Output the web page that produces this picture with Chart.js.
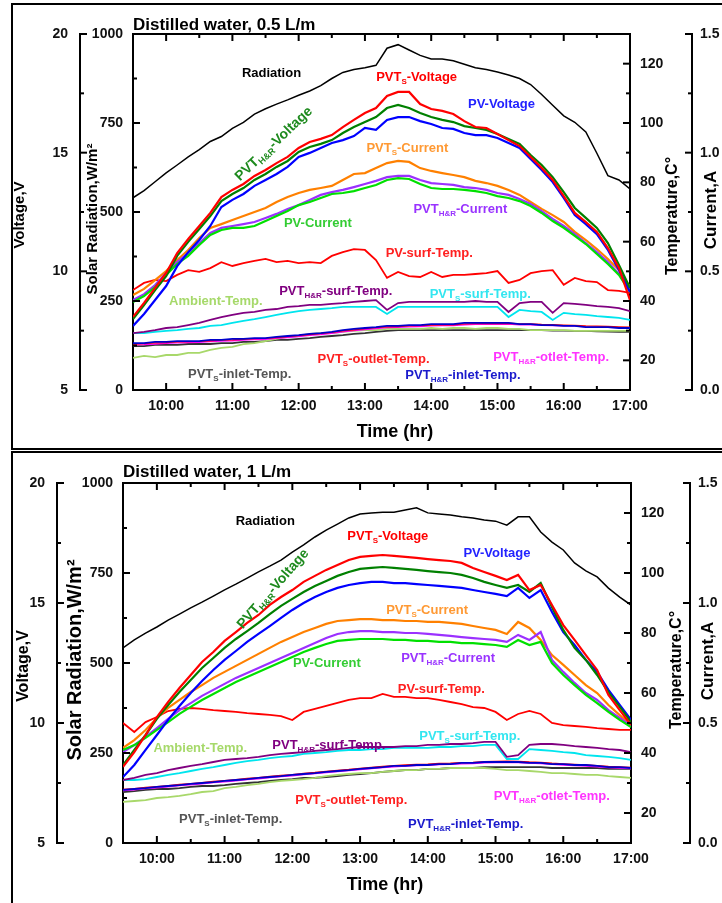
<!DOCTYPE html>
<html>
<head>
<meta charset="utf-8">
<title>PV / PVT distilled water</title>
<script src="https://cdn.jsdelivr.net/npm/chart.js@4.4.1/dist/chart.umd.min.js"></script>
<style>
  html, body { margin: 0; padding: 0; background: #fff; }
  body { width: 722px; height: 903px; position: relative; overflow: hidden; }
  .panel { position: absolute; left: 11px; width: 730px; border: 2px solid #000; }
  #panelTop { top: 3px; height: 443px; }
  #panelBottom { top: 451px; height: 480px; }
  canvas { position: absolute; left: 0; }
  #chartTop { top: 0; }
  #chartBottom { top: 452px; }
</style>
</head>
<body>
<div class="panel" id="panelTop"></div>
<div class="panel" id="panelBottom"></div>
<canvas id="chartTop" width="722" height="450"></canvas>
<canvas id="chartBottom" width="722" height="451"></canvas>
<script>
// sample times (every 10 min)
const times = ['9:30','9:40','9:50','10:00','10:10','10:20','10:30','10:40','10:50','11:00','11:10','11:20',
  '11:30','11:40','11:50','12:00','12:10','12:20','12:30','12:40','12:50','13:00','13:10','13:20','13:30',
  '13:40','13:50','14:00','14:10','14:20','14:30','14:40','14:50','15:00','15:10','15:20','15:30','15:40',
  '15:50','16:00','16:10','16:20','16:30','16:40','16:50','17:00'];

// ---- 0.5 L/m ----
const radTop = [540, 560, 585, 610, 632, 655, 675, 698, 712, 735, 752, 775, 790, 803, 815, 828, 840, 855, 875, 892,
  900, 905, 912, 960, 970, 955, 940, 930, 930, 925, 915, 905, 900, 893, 885, 875, 858, 830, 800, 770, 752, 725, 665, 602, 590, 565];
const voltSTop = [8.08, 8.67, 9.30, 9.93, 10.77, 11.36, 11.91, 12.46, 13.13, 13.43, 13.68, 14.02, 14.27, 14.56, 14.82, 15.20,
  15.45, 15.58, 15.74, 16.08, 16.38, 16.67, 16.88, 17.39, 17.56, 17.56, 17.05, 16.84, 16.76, 16.63, 16.33, 16.08, 16.04,
  15.79, 15.53, 15.28, 14.82, 14.35, 13.85, 13.17, 12.46, 12.08, 11.66, 10.98, 10.14, 8.79];
const voltHRTop = [7.99, 8.58, 9.21, 9.80, 10.65, 11.24, 11.78, 12.33, 12.96, 13.26, 13.51, 13.85, 14.10, 14.40, 14.65, 15.03,
  15.24, 15.37, 15.53, 15.83, 16.08, 16.29, 16.50, 16.88, 17.01, 16.88, 16.67, 16.50, 16.38, 16.29, 16.12, 16.04, 15.96,
  15.79, 15.58, 15.37, 14.90, 14.48, 13.97, 13.34, 12.67, 12.25, 11.83, 11.19, 10.27, 9.30];
const voltPVTop = [7.70, 8.20, 8.79, 9.38, 10.22, 10.81, 11.32, 11.91, 12.71, 13.01, 13.26, 13.60, 13.85, 14.10, 14.40, 14.82,
  14.99, 15.20, 15.41, 15.53, 15.70, 16.04, 15.96, 16.38, 16.50, 16.50, 16.33, 16.21, 16.04, 16.00, 15.83, 15.74, 15.74,
  15.62, 15.41, 15.20, 14.73, 14.27, 13.76, 13.09, 12.37, 11.99, 11.57, 10.90, 10.06, 9.13];
const curSTop = [0.400, 0.426, 0.463, 0.501, 0.548, 0.590, 0.640, 0.683, 0.699, 0.716, 0.733, 0.750, 0.767, 0.792, 0.813, 0.830,
  0.843, 0.851, 0.860, 0.885, 0.910, 0.914, 0.935, 0.956, 0.965, 0.961, 0.935, 0.923, 0.914, 0.906, 0.897, 0.881, 0.872,
  0.860, 0.843, 0.822, 0.792, 0.763, 0.737, 0.708, 0.666, 0.632, 0.594, 0.552, 0.506, 0.434];
const curHRTop = [0.379, 0.404, 0.442, 0.493, 0.539, 0.577, 0.619, 0.662, 0.683, 0.691, 0.699, 0.708, 0.725, 0.742, 0.763, 0.779,
  0.801, 0.822, 0.834, 0.843, 0.855, 0.868, 0.881, 0.897, 0.902, 0.902, 0.885, 0.872, 0.868, 0.864, 0.855, 0.851, 0.843,
  0.830, 0.822, 0.805, 0.784, 0.754, 0.721, 0.691, 0.657, 0.619, 0.581, 0.539, 0.489, 0.421];
const curPVTop = [0.371, 0.396, 0.434, 0.485, 0.531, 0.565, 0.611, 0.653, 0.674, 0.683, 0.683, 0.691, 0.712, 0.733, 0.754, 0.779,
  0.792, 0.809, 0.826, 0.830, 0.838, 0.851, 0.864, 0.885, 0.893, 0.889, 0.868, 0.851, 0.847, 0.847, 0.843, 0.838, 0.830,
  0.817, 0.809, 0.796, 0.775, 0.746, 0.712, 0.683, 0.649, 0.615, 0.573, 0.531, 0.485, 0.413];
const pvSurfTop = [43.7, 46.1, 47.1, 46.7, 48.8, 50.4, 49.8, 51.1, 53.1, 51.8, 52.8, 53.5, 54.2, 53.1, 53.5, 52.8, 53.1, 52.8,
  55.2, 56.5, 57.5, 57.2, 53.8, 47.8, 49.8, 48.4, 48.1, 49.8, 48.1, 48.8, 48.8, 49.1, 49.4, 50.1, 46.1, 47.1, 49.4, 50.1,
  50.4, 45.5, 47.8, 46.7, 46.4, 43.7, 43.4, 42.7];
const hrSurfTop = [29.2, 29.6, 30.2, 30.9, 31.2, 31.9, 32.6, 33.6, 34.6, 35.3, 36.0, 36.3, 37.0, 37.3, 38.0, 38.3, 38.7, 38.7,
  39.0, 39.3, 39.7, 40.0, 40.3, 37.0, 39.3, 39.7, 39.7, 39.7, 39.7, 39.7, 39.7, 40.0, 39.7, 39.7, 36.3, 39.3, 39.7, 39.7,
  36.0, 39.3, 39.0, 38.7, 38.3, 38.0, 37.6, 36.6];
const sSurfTop = [29.2, 29.2, 29.6, 29.9, 30.2, 30.6, 30.9, 31.6, 31.9, 32.6, 33.3, 33.9, 34.6, 35.3, 36.0, 36.6, 37.0, 37.3,
  37.6, 38.0, 38.0, 38.0, 38.0, 35.6, 38.0, 38.0, 38.0, 38.0, 38.0, 38.0, 38.0, 38.0, 38.0, 38.0, 34.6, 37.0, 36.6, 36.3,
  33.6, 36.0, 35.6, 35.3, 34.9, 34.6, 34.3, 33.6];
const ambientTop = [20.8, 21.5, 21.1, 21.8, 21.8, 22.5, 22.5, 23.5, 24.2, 24.5, 25.5, 25.8, 26.5, 27.2, 27.9, 28.2, 28.9, 29.2,
  29.2, 29.6, 29.9, 30.2, 30.2, 30.6, 30.6, 30.6, 30.6, 30.9, 30.6, 30.9, 30.9, 30.6, 30.9, 30.9, 30.6, 30.6, 30.2, 30.2,
  30.2, 30.2, 29.9, 29.9, 29.9, 29.9, 29.9, 29.9];
const sOutletTop = [25.5, 25.6, 25.9, 26.0, 26.2, 26.3, 26.4, 26.6, 26.8, 26.9, 27.1, 27.3, 27.4, 27.7, 28.0, 28.3, 28.7, 29.0,
  29.4, 29.9, 30.3, 30.7, 31.0, 31.3, 31.4, 31.6, 31.7, 31.9, 32.0, 32.0, 32.3, 32.4, 32.4, 32.4, 32.5, 32.3, 32.3, 32.1,
  32.0, 31.9, 31.8, 31.6, 31.5, 31.4, 31.3, 31.2];
const hrOutletTop = [25.2, 25.3, 25.5, 25.7, 25.9, 26.0, 26.1, 26.3, 26.5, 26.6, 26.8, 27.0, 27.1, 27.4, 27.7, 28.0, 28.4, 28.7,
  29.1, 29.6, 30.0, 30.4, 30.7, 31.0, 31.1, 31.3, 31.4, 31.6, 31.7, 31.7, 32.0, 32.1, 32.1, 32.1, 32.2, 32.0, 32.0, 31.8,
  31.7, 31.6, 31.5, 31.3, 31.2, 31.1, 31.0, 30.9];
const sInletTop = [24.8, 24.8, 25.2, 25.2, 25.2, 25.5, 25.5, 25.5, 25.8, 25.8, 26.2, 26.2, 26.5, 26.9, 26.9, 27.2, 27.5, 27.9,
  28.2, 28.5, 28.9, 29.2, 29.6, 29.9, 30.2, 30.2, 30.2, 30.2, 30.2, 30.2, 30.2, 30.2, 30.2, 30.2, 30.2, 30.2, 30.2, 30.2,
  30.0, 30.0, 29.9, 29.9, 29.8, 29.7, 29.6, 29.6];
const hrInletTop = [25.8, 25.8, 26.2, 26.2, 26.5, 26.5, 26.5, 26.9, 26.9, 27.2, 27.2, 27.5, 27.5, 27.9, 28.2, 28.5, 28.9, 29.2,
  29.6, 30.2, 30.6, 30.9, 31.2, 31.6, 31.6, 31.9, 31.9, 32.2, 32.2, 32.2, 32.6, 32.6, 32.6, 32.6, 32.6, 32.2, 32.2, 31.9,
  31.9, 31.6, 31.6, 31.2, 31.2, 31.2, 30.9, 30.9];

// ---- 1 L/m ----
const radBot = [542, 564, 583, 600, 619, 636, 653, 669, 686, 703, 719, 736, 753, 769, 786, 808, 828, 850, 869, 886, 903, 914,
  917, 919, 919, 925, 931, 917, 914, 911, 906, 903, 897, 894, 883, 906, 906, 864, 836, 814, 778, 756, 739, 708, 683, 661];
const voltSBot = [8.17, 8.79, 9.50, 10.25, 10.88, 11.46, 12.00, 12.54, 12.96, 13.42, 13.79, 14.17, 14.50, 14.92, 15.25, 15.54,
  15.88, 16.13, 16.38, 16.58, 16.79, 16.92, 16.96, 17.00, 16.96, 16.92, 16.88, 16.83, 16.79, 16.75, 16.67, 16.46, 16.29,
  16.13, 15.96, 16.17, 15.54, 15.75, 14.92, 14.08, 13.46, 12.83, 12.21, 11.17, 10.54, 9.92];
const voltHRBot = [8.25, 8.88, 9.50, 10.17, 10.75, 11.29, 11.79, 12.29, 12.71, 13.13, 13.50, 13.83, 14.17, 14.54, 14.88, 15.17,
  15.46, 15.71, 15.92, 16.13, 16.29, 16.42, 16.46, 16.50, 16.46, 16.42, 16.38, 16.33, 16.29, 16.25, 16.17, 16.04, 15.88,
  15.75, 15.63, 15.75, 15.46, 15.83, 14.83, 13.88, 13.13, 12.63, 12.00, 11.29, 10.67, 10.04];
const voltPVBot = [7.75, 8.25, 8.88, 9.50, 10.13, 10.71, 11.25, 11.75, 12.21, 12.63, 13.00, 13.38, 13.71, 14.04, 14.38, 14.71,
  15.00, 15.25, 15.46, 15.63, 15.75, 15.83, 15.88, 15.88, 15.83, 15.83, 15.79, 15.75, 15.71, 15.67, 15.63, 15.54, 15.46,
  15.38, 15.29, 15.63, 15.21, 15.54, 14.63, 13.79, 13.25, 12.63, 12.13, 11.38, 10.75, 10.13];
const curSBot = [0.396, 0.429, 0.471, 0.521, 0.563, 0.596, 0.629, 0.658, 0.688, 0.713, 0.738, 0.763, 0.788, 0.813, 0.838, 0.858,
  0.879, 0.896, 0.913, 0.925, 0.929, 0.933, 0.933, 0.929, 0.929, 0.925, 0.925, 0.921, 0.921, 0.917, 0.913, 0.904, 0.896,
  0.888, 0.871, 0.921, 0.896, 0.846, 0.783, 0.742, 0.700, 0.658, 0.625, 0.575, 0.533, 0.492];
const curHRBot = [0.379, 0.408, 0.442, 0.479, 0.517, 0.554, 0.583, 0.613, 0.638, 0.663, 0.688, 0.708, 0.729, 0.750, 0.771, 0.792,
  0.813, 0.833, 0.854, 0.871, 0.879, 0.883, 0.883, 0.879, 0.879, 0.875, 0.875, 0.871, 0.867, 0.863, 0.858, 0.854, 0.850,
  0.846, 0.838, 0.867, 0.846, 0.879, 0.763, 0.713, 0.667, 0.625, 0.596, 0.554, 0.521, 0.488];
const curPVBot = [0.388, 0.408, 0.438, 0.471, 0.504, 0.538, 0.567, 0.596, 0.621, 0.646, 0.671, 0.692, 0.713, 0.733, 0.754, 0.775,
  0.796, 0.813, 0.829, 0.842, 0.846, 0.850, 0.850, 0.850, 0.846, 0.846, 0.842, 0.842, 0.838, 0.838, 0.833, 0.833, 0.829,
  0.825, 0.817, 0.846, 0.825, 0.838, 0.750, 0.700, 0.658, 0.617, 0.583, 0.546, 0.513, 0.483];
const pvSurfBot = [50.0, 47.0, 50.3, 52.0, 54.0, 54.7, 55.0, 54.7, 54.3, 54.0, 53.7, 53.3, 53.0, 52.7, 52.3, 51.0, 53.7, 54.7,
  55.7, 56.7, 57.7, 58.3, 58.3, 59.7, 58.7, 58.7, 58.3, 58.3, 57.7, 57.0, 56.3, 55.3, 55.0, 53.7, 51.0, 53.0, 54.0, 53.0,
  50.0, 49.3, 49.0, 48.7, 48.3, 48.0, 47.7, 47.7];
const hrSurfBot = [31.0, 31.7, 32.7, 33.3, 34.3, 35.0, 35.7, 36.3, 37.0, 37.7, 38.0, 38.3, 38.7, 39.3, 39.7, 40.0, 40.3, 40.7,
  41.0, 41.3, 41.7, 42.0, 42.0, 42.0, 42.0, 42.3, 42.3, 42.7, 42.7, 43.0, 43.0, 43.3, 43.7, 43.7, 38.7, 39.3, 42.7, 43.0,
  43.0, 42.7, 42.3, 42.0, 41.7, 41.3, 41.0, 40.3];
const sSurfBot = [31.0, 31.0, 31.3, 32.0, 32.7, 33.3, 34.0, 34.7, 35.3, 36.0, 36.7, 37.3, 37.7, 38.3, 38.7, 39.0, 39.7, 40.0,
  40.3, 40.7, 41.0, 41.0, 41.3, 41.3, 41.7, 41.7, 41.7, 41.7, 42.0, 42.0, 42.3, 42.3, 42.7, 42.7, 38.0, 38.0, 41.3, 41.0,
  40.7, 40.3, 40.0, 39.3, 39.0, 38.7, 38.3, 37.7];
const ambientBot = [23.7, 24.0, 24.3, 25.0, 25.3, 25.7, 26.3, 27.0, 27.3, 28.3, 28.7, 29.3, 29.7, 30.3, 30.7, 31.0, 31.3, 31.7,
  32.3, 32.7, 33.0, 33.3, 33.3, 33.7, 34.0, 34.3, 34.3, 34.7, 34.7, 35.0, 35.0, 35.0, 35.0, 34.7, 34.3, 34.3, 34.0, 33.7,
  33.3, 33.3, 33.0, 32.7, 32.7, 32.3, 32.0, 31.7];
const sOutletBot = [27.9, 28.1, 28.5, 28.8, 29.1, 29.5, 29.8, 30.1, 30.5, 30.8, 31.1, 31.5, 31.8, 32.2, 32.5, 32.8, 33.2, 33.5,
  33.9, 34.2, 34.5, 34.9, 35.2, 35.5, 35.8, 36.0, 36.2, 36.3, 36.5, 36.6, 36.8, 36.9, 37.1, 37.2, 37.3, 37.2, 37.0, 36.9,
  36.6, 36.4, 36.2, 36.0, 35.8, 35.5, 35.4, 35.2];
const hrOutletBot = [27.5, 27.7, 28.1, 28.4, 28.7, 29.1, 29.4, 29.7, 30.1, 30.4, 30.7, 31.1, 31.4, 31.8, 32.1, 32.4, 32.8, 33.1,
  33.5, 33.8, 34.1, 34.5, 34.8, 35.1, 35.4, 35.6, 35.8, 35.9, 36.1, 36.2, 36.4, 36.5, 36.7, 36.8, 36.9, 36.8, 36.6, 36.5,
  36.2, 36.0, 35.8, 35.6, 35.4, 35.1, 35.0, 34.8];
const sInletBot = [27.0, 27.3, 27.7, 28.0, 28.0, 28.3, 28.7, 29.0, 29.0, 29.3, 29.7, 30.0, 30.3, 30.7, 31.0, 31.3, 31.7, 31.7,
  32.0, 32.3, 32.7, 33.0, 33.3, 33.7, 34.0, 34.3, 34.3, 34.7, 34.7, 35.0, 35.0, 35.0, 35.3, 35.3, 35.3, 35.3, 35.3, 35.3,
  35.0, 35.0, 35.0, 35.0, 35.0, 34.7, 34.7, 34.7];
const hrInletBot = [27.7, 28.0, 28.3, 28.7, 29.0, 29.3, 29.7, 30.0, 30.3, 30.7, 31.0, 31.3, 31.7, 32.0, 32.3, 32.7, 33.0, 33.3,
  33.7, 34.0, 34.3, 34.7, 35.0, 35.3, 35.7, 35.7, 36.0, 36.0, 36.3, 36.3, 36.7, 36.7, 37.0, 37.0, 37.0, 37.0, 36.7, 36.7,
  36.3, 36.3, 36.0, 36.0, 35.7, 35.3, 35.3, 35.0];

const FONT = '"Liberation Sans", Arial, sans-serif';

function toHours(t) {
  const [h, m] = t.split(':').map(Number);
  return h + m / 60;
}

// line styles, topmost first
function seriesList(d) {
  return [
    { name: 'PVT_S-Voltage', values: d.voltS, axis: 'yVolt', color: '#ff0000', width: 2.2 },
    { name: 'PVT_H&R-Voltage', values: d.voltHR, axis: 'yVolt', color: '#008000', width: 2.2 },
    { name: 'PV-Voltage', values: d.voltPV, axis: 'yVolt', color: '#0000ff', width: 2.2 },
    { name: 'PV-Current', values: d.curPV, axis: 'yCur', color: '#00e000', width: 2.2 },
    { name: 'PVT_H&R-Current', values: d.curHR, axis: 'yCur', color: '#9b30ff', width: 2.2 },
    { name: 'PVT_S-Current', values: d.curS, axis: 'yCur', color: '#ff8000', width: 2.2 },
    { name: 'PV-surf-Temp.', values: d.pvSurf, axis: 'yTemp', color: '#ff0000', width: 1.8 },
    { name: 'PVT_H&R-surf-Temp.', values: d.hrSurf, axis: 'yTemp', color: '#800080', width: 1.8 },
    { name: 'PVT_S-surf-Temp.', values: d.sSurf, axis: 'yTemp', color: '#00e5ee', width: 1.8 },
    { name: 'PVT_H&R-inlet-Temp.', values: d.hrInlet, axis: 'yTemp', color: '#0000cc', width: 1.8 },
    { name: 'PVT_S-outlet-Temp.', values: d.sOutlet, axis: 'yTemp', color: '#ff0000', width: 1.3 },
    { name: 'PVT_H&R-otlet-Temp.', values: d.hrOutlet, axis: 'yTemp', color: '#ff00ff', width: 1.3 },
    { name: 'Ambient-Temp.', values: d.ambient, axis: 'yTemp', color: '#a8d86a', width: 1.8 },
    { name: 'PVT_S-inlet-Temp.', values: d.sInlet, axis: 'yTemp', color: '#333333', width: 1.8 },
    { name: 'Radiation', values: d.rad, axis: 'yRad', color: '#000000', width: 1.5 }
  ];
}

// text with a subscript part: 'PVT|S|-Voltage'
function drawRich(ctx, text, x, y, size, color, rot) {
  const parts = text.split('|').map((t, i) => ({ t, sub: i % 2 === 1 }));
  const big = 'bold ' + size + 'px ' + FONT;
  const small = 'bold ' + Math.round(size * 0.62) + 'px ' + FONT;
  let w = 0;
  parts.forEach(p => { ctx.font = p.sub ? small : big; p.w = ctx.measureText(p.t).width; w += p.w; });
  ctx.save();
  ctx.translate(x, y);
  ctx.rotate(rot || 0);
  ctx.fillStyle = color;
  ctx.textBaseline = 'alphabetic';
  ctx.textAlign = 'left';
  let cx = -w / 2;
  parts.forEach(p => {
    ctx.font = p.sub ? small : big;
    ctx.fillText(p.t, cx, p.sub ? size * 0.38 + 3 : size * 0.38);
    cx += p.w;
  });
  ctx.restore();
}

function isMajor(v, major) {
  const r = v / major;
  return Math.abs(r - Math.round(r)) < 1e-6;
}

const panelDecor = {
  id: 'panelDecor',
  afterDraw(chart, args, opts) {
    const ctx = chart.ctx;
    const a = chart.chartArea;
    const s = chart.scales;
    ctx.save();
    ctx.strokeStyle = '#000';
    ctx.lineWidth = 2;
    ctx.beginPath();
    ctx.moveTo(a.left - 1, a.top);
    ctx.lineTo(a.right + 1, a.top);
    ctx.stroke();

    const tick = (x1, y1, x2, y2) => { ctx.beginPath(); ctx.moveTo(x1, y1); ctx.lineTo(x2, y2); ctx.stroke(); };
    const len = t => (t.label !== '' ? 7 : 4);
    s.x.ticks.forEach(t => {
      const px = s.x.getPixelForValue(t.value);
      tick(px, a.bottom, px, a.bottom - len(t));
      tick(px, a.top, px, a.top + len(t));
    });
    s.yRad.ticks.forEach(t => {
      const py = s.yRad.getPixelForValue(t.value);
      tick(a.left, py, a.left + len(t), py);
    });
    s.yTemp.ticks.forEach(t => {
      const py = s.yTemp.getPixelForValue(t.value);
      tick(a.right, py, a.right - len(t), py);
    });
    s.yVolt.ticks.forEach(t => {
      const py = s.yVolt.getPixelForValue(t.value);
      tick(s.yVolt.right, py, s.yVolt.right + len(t), py);
    });
    s.yCur.ticks.forEach(t => {
      const py = s.yCur.getPixelForValue(t.value);
      tick(s.yCur.left, py, s.yCur.left - len(t), py);
    });

    // titles
    ctx.fillStyle = '#000';
    ctx.textBaseline = 'alphabetic';
    ctx.textAlign = 'left';
    ctx.font = 'bold 17px ' + FONT;
    ctx.fillText(opts.title, a.left, opts.titleY);

    opts.axisTitles.forEach(t => {
      ctx.save();
      ctx.translate(t.x, t.y);
      ctx.rotate(t.rot);
      ctx.font = 'bold ' + t.size + 'px ' + FONT;
      ctx.textAlign = 'center';
      ctx.textBaseline = 'middle';
      ctx.fillText(t.text, 0, 0);
      ctx.restore();
    });

    // in-plot series labels, placed in (hour, radiation) coordinates
    opts.labels.forEach(l => {
      const px = s.x.getPixelForValue(l.h);
      const py = s.yRad.getPixelForValue(l.r);
      drawRich(ctx, l.text, px, py, l.size || 13, l.color, l.rot);
    });
    ctx.restore();
  }
};

const tickFont = { family: FONT, size: 14, weight: 'bold' };

function yAxis(position, min, max, step, major, width, weight, pad, fmt) {
  return {
    type: 'linear', position, min, max, weight,
    afterFit: sc => { sc.width = width; },
    grid: { display: true, drawOnChartArea: false, drawTicks: false },
    border: { display: true, color: '#000', width: 2 },
    ticks: {
      stepSize: step, autoSkip: false, padding: pad, color: '#111', font: tickFont,
      callback: v => (isMajor(v, major) ? fmt(v) : '')
    }
  };
}

function buildPanel(canvasId, d, lay) {
  const datasets = seriesList(d).map(sr => ({
    label: sr.name,
    data: times.map((t, i) => ({ x: toHours(t), y: sr.values[i] })),
    yAxisID: sr.axis,
    borderColor: sr.color,
    borderWidth: sr.width,
    pointRadius: 0,
    tension: 0,
    fill: false
  }));

  new Chart(document.getElementById(canvasId), {
    type: 'line',
    data: { datasets },
    options: {
      responsive: false,
      animation: false,
      events: [],
      layout: { padding: { top: lay.top, left: 0, right: 0, bottom: 0 } },
      plugins: {
        legend: { display: false },
        tooltip: { enabled: false },
        panelDecor: { title: lay.title, titleY: lay.titleY, axisTitles: lay.axisTitles, labels: lay.labels }
      },
      scales: {
        x: {
          type: 'linear', position: 'bottom', min: 9.5, max: 17,
          afterFit: sc => { sc.height = lay.xHeight; },
          grid: { display: true, drawOnChartArea: false, drawTicks: false },
          border: { display: true, color: '#000', width: 2 },
          ticks: {
            stepSize: 0.5, autoSkip: false, maxRotation: 0, padding: 8, color: '#111', font: tickFont,
            callback: v => (Number.isInteger(v) ? v + ':00' : '')
          }
        },
        yRad: yAxis('left', 0, 1000, 125, 250, lay.radW, 0, 10, v => String(v)),
        yVolt: yAxis('left', 5, 20, 2.5, 5, lay.voltW, 1, 12, v => String(v)),
        yTemp: yAxis('right', 10, 130, 10, 20, lay.tempW, 0, 10, v => String(v)),
        yCur: yAxis('right', 0, 1.5, 0.25, 0.5, lay.curW, 1, 8, v => v.toFixed(1))
      }
    },
    plugins: [panelDecor]
  });
}

const labelColors = {
  rad: '#000000', voltS: '#ff0000', voltPV: '#2222ff', voltHR: '#1e8a1e', curS: '#ff9933', curHR: '#9933ff',
  curPV: '#33cc33', pvSurf: '#ff2020', hrSurf: '#800080', sSurf: '#33e6f0', ambient: '#a6d96a',
  sOutlet: '#ff2020', hrOutlet: '#ff33ff', sInlet: '#555555', hrInlet: '#1a1acc'
};
const C = labelColors;

buildPanel('chartTop', {
  rad: radTop, voltS: voltSTop, voltHR: voltHRTop, voltPV: voltPVTop, curS: curSTop, curHR: curHRTop, curPV: curPVTop,
  pvSurf: pvSurfTop, hrSurf: hrSurfTop, sSurf: sSurfTop, ambient: ambientTop, sOutlet: sOutletTop,
  hrOutlet: hrOutletTop, sInlet: sInletTop, hrInlet: hrInletTop
}, {
  top: 34, xHeight: 60, radW: 53, voltW: 80, tempW: 62, curW: 30,
  title: 'Distilled water, 0.5 L/m', titleY: 30,
  axisTitles: [
    { text: 'Voltage,V', x: 20, y: 215, size: 15, rot: -Math.PI / 2 },
    { text: 'Solar Radiation,W/m²', x: 93, y: 219, size: 15, rot: -Math.PI / 2 },
    { text: 'Temperature,C°', x: 673, y: 216, size: 16, rot: -Math.PI / 2 },
    { text: 'Current,A', x: 711, y: 210, size: 17, rot: -Math.PI / 2 },
    { text: 'Time (hr)', x: 395, y: 432, size: 18, rot: 0 }
  ],
  labels: [
    { text: 'Radiation', h: 11.59, r: 893, color: C.rad },
    { text: 'PVT|S|-Voltage', h: 13.78, r: 882, color: C.voltS },
    { text: 'PV-Voltage', h: 15.06, r: 806, color: C.voltPV },
    { text: 'PVT|H&R|-Voltage', h: 11.61, r: 694, color: C.voltHR, size: 14, rot: -0.76 },
    { text: 'PVT|S|-Current', h: 13.64, r: 683, color: C.curS },
    { text: 'PVT|H&R|-Current', h: 14.44, r: 511, color: C.curHR },
    { text: 'PV-Current', h: 12.29, r: 472, color: C.curPV },
    { text: 'PV-surf-Temp.', h: 13.97, r: 388, color: C.pvSurf },
    { text: 'PVT|H&R|-surf-Temp.', h: 12.56, r: 281, color: C.hrSurf },
    { text: 'PVT|S|-surf-Temp.', h: 14.74, r: 272, color: C.sSurf },
    { text: 'Ambient-Temp.', h: 10.75, r: 253, color: C.ambient },
    { text: 'PVT|S|-outlet-Temp.', h: 13.13, r: 90, color: C.sOutlet },
    { text: 'PVT|H&R|-otlet-Temp.', h: 15.81, r: 96, color: C.hrOutlet },
    { text: 'PVT|S|-inlet-Temp.', h: 11.11, r: 48, color: C.sInlet },
    { text: 'PVT|H&R|-inlet-Temp.', h: 14.48, r: 45, color: C.hrInlet }
  ]
});

buildPanel('chartBottom', {
  rad: radBot, voltS: voltSBot, voltHR: voltHRBot, voltPV: voltPVBot, curS: curSBot, curHR: curHRBot, curPV: curPVBot,
  pvSurf: pvSurfBot, hrSurf: hrSurfBot, sSurf: sSurfBot, ambient: ambientBot, sOutlet: sOutletBot,
  hrOutlet: hrOutletBot, sInlet: sInletBot, hrInlet: hrInletBot
}, {
  top: 31, xHeight: 60, radW: 66, voltW: 57, tempW: 59, curW: 32,
  title: 'Distilled water, 1 L/m', titleY: 25,
  axisTitles: [
    { text: 'Voltage,V', x: 24, y: 214, size: 16, rot: -Math.PI / 2 },
    { text: 'Solar Radiation,W/m²', x: 75, y: 208, size: 20, rot: -Math.PI / 2 },
    { text: 'Temperature,C°', x: 677, y: 218, size: 16, rot: -Math.PI / 2 },
    { text: 'Current,A', x: 708, y: 209, size: 17, rot: -Math.PI / 2 },
    { text: 'Time (hr)', x: 385, y: 433, size: 18, rot: 0 }
  ],
  labels: [
    { text: 'Radiation', h: 11.60, r: 897, color: C.rad },
    { text: 'PVT|S|-Voltage', h: 13.41, r: 856, color: C.voltS },
    { text: 'PV-Voltage', h: 15.02, r: 808, color: C.voltPV },
    { text: 'PVT|H&R|-Voltage', h: 11.70, r: 708, color: C.voltHR, size: 14, rot: -0.85 },
    { text: 'PVT|S|-Current', h: 13.99, r: 650, color: C.curS },
    { text: 'PVT|H&R|-Current', h: 14.30, r: 517, color: C.curHR },
    { text: 'PV-Current', h: 12.51, r: 503, color: C.curPV },
    { text: 'PV-surf-Temp.', h: 14.20, r: 431, color: C.pvSurf },
    { text: 'PVT|H&R|-surf-Temp.', h: 12.54, r: 275, color: C.hrSurf },
    { text: 'PVT|S|-surf-Temp.', h: 14.62, r: 300, color: C.sSurf },
    { text: 'Ambient-Temp.', h: 10.64, r: 267, color: C.ambient },
    { text: 'PVT|S|-outlet-Temp.', h: 12.87, r: 122, color: C.sOutlet },
    { text: 'PVT|H&R|-otlet-Temp.', h: 15.83, r: 133, color: C.hrOutlet },
    { text: 'PVT|S|-inlet-Temp.', h: 11.09, r: 69, color: C.sInlet },
    { text: 'PVT|H&R|-inlet-Temp.', h: 14.56, r: 56, color: C.hrInlet }
  ]
});
</script>
</body>
</html>
